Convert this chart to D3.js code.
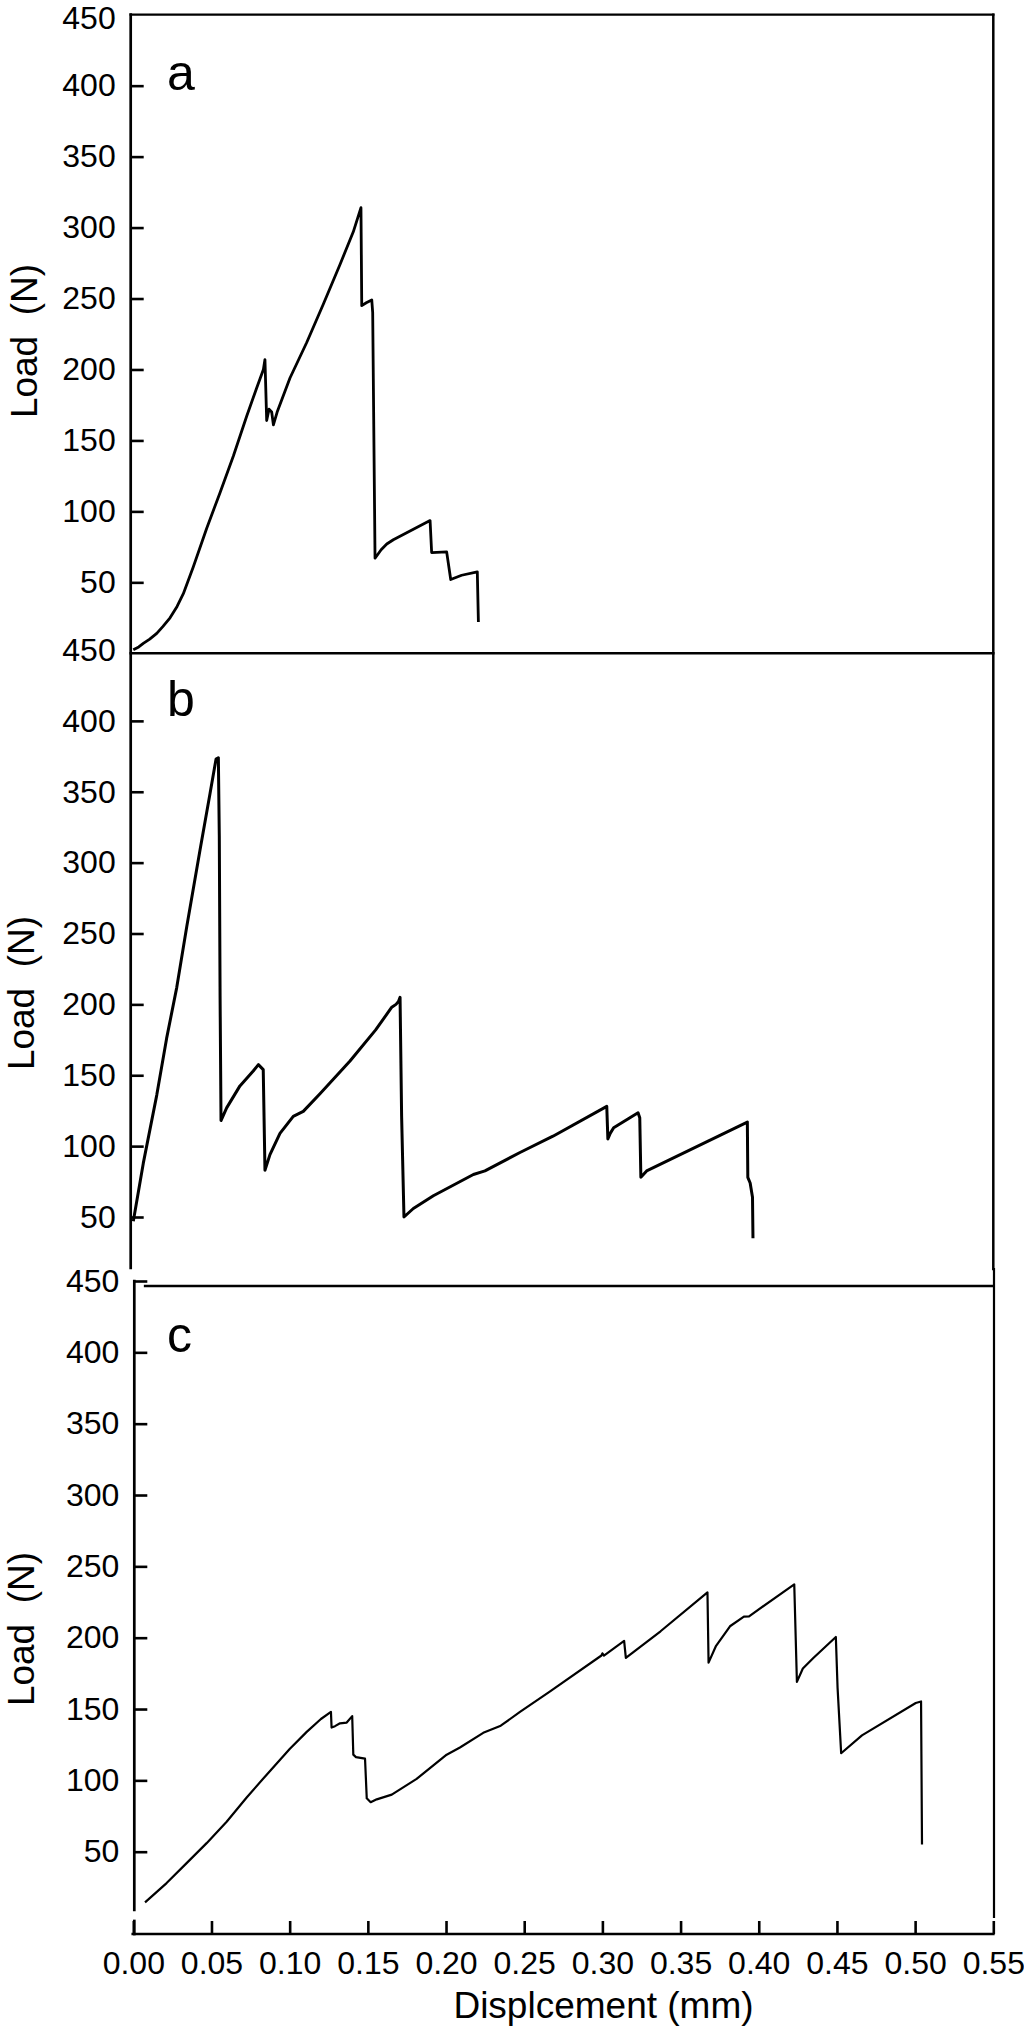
<!DOCTYPE html>
<html><head><meta charset="utf-8">
<script src="https://cdn.jsdelivr.net/npm/d3@7"></script>
<style>
html,body{margin:0;padding:0;background:#fff;}
svg{display:block;}
text{font-family:"Liberation Sans",Arial,Helvetica,sans-serif;fill:#000;}
</style></head><body>
<svg id="chart" width="1024" height="2030"></svg>
<script>
// ---------- data ----------
const dispA = [0, 0.0035, 0.0064, 0.0105, 0.0150, 0.0190, 0.0235, 0.0280, 0.0320, 0.0384, 0.0469, 0.0554, 0.0640, 0.0725, 0.0789, 0.0832, 0.0842, 0.0853, 0.0868, 0.0885, 0.0896, 0.0920, 0.1002, 0.1109, 0.1215, 0.1322, 0.1407, 0.1456, 0.1461, 0.1490, 0.1525, 0.1531, 0.1546, 0.1585, 0.1621, 0.1663, 0.1898, 0.1908, 0.2004, 0.2030, 0.2100, 0.2200, 0.2207];
const loadA = [2.5, 4.5, 7, 10, 14, 19, 25, 33, 42, 61, 88, 113, 139, 167, 187, 200, 207, 164, 172, 170, 161, 170, 194, 219, 246, 274, 297, 314, 245, 247, 249, 240, 67, 73, 77, 80, 93.5, 71, 71.5, 52, 55, 57.4, 22];

const dispB = [0, 0.0064, 0.0150, 0.0213, 0.0278, 0.0342, 0.0427, 0.0491, 0.0529, 0.0544, 0.0550, 0.0555, 0.0561, 0.0597, 0.0682, 0.0767, 0.0800, 0.0831, 0.0842, 0.0874, 0.0938, 0.1023, 0.1087, 0.1194, 0.1386, 0.1550, 0.1653, 0.1680, 0.1696, 0.1706, 0.1716, 0.1731, 0.1791, 0.1919, 0.2175, 0.2249, 0.2473, 0.2684, 0.3028, 0.3035, 0.3050, 0.3072, 0.3228, 0.3239, 0.3246, 0.3283, 0.3927, 0.3930, 0.3945, 0.3960, 0.3963];
const loadB = [47, 88, 136, 176, 212, 255, 309, 349, 373, 374, 319, 206, 118, 127, 142.5, 153, 157.5, 154, 83, 94, 109, 121, 124.5, 137, 160, 182, 198, 200, 202, 205, 121, 50, 56, 65, 80, 82.5, 95.5, 107, 128, 105, 109, 113, 123.5, 120, 78, 82.5, 117, 78, 74, 64, 35];

const dispC = [0.0075, 0.0213, 0.0341, 0.0469, 0.0597, 0.0725, 0.0853, 0.1000, 0.1109, 0.1200, 0.1264, 0.1268, 0.1290, 0.1322, 0.1365, 0.1400, 0.1407, 0.1424, 0.1482, 0.1493, 0.1518, 0.1557, 0.1653, 0.1812, 0.2004, 0.2089, 0.2238, 0.2350, 0.2473, 0.2661, 0.2994, 0.3000, 0.3010, 0.3139, 0.3150, 0.3372, 0.3672, 0.3679, 0.3727, 0.3816, 0.3905, 0.3938, 0.4227, 0.4244, 0.4282, 0.4349, 0.4493, 0.4504, 0.4527, 0.4660, 0.5004, 0.5038, 0.5044];
const loadC = [14.5, 28, 42, 56, 71, 88, 104, 122, 134, 143, 148, 137, 138, 140, 140.5, 145, 118, 116.3, 115.2, 87.4, 84.7, 86.7, 90, 101, 118, 123, 133.3, 138.3, 148, 162, 187.5, 189, 187.5, 197.7, 185.8, 204.5, 231.7, 182.5, 194.3, 208, 214.7, 215, 237.4, 169, 178.4, 185.8, 200.5, 165, 119, 131.5, 154.2, 155.3, 55];

const xTickValues = [0, 0.05, 0.10, 0.15, 0.20, 0.25, 0.30, 0.35, 0.40, 0.45, 0.50, 0.55];
const yTickValues = [50, 100, 150, 200, 250, 300, 350, 400, 450];
const panelLetters = ["a", "b", "c"];
const xTitle = "Displcement (mm)";
const yTitle = "Load  (N)";

// ---------- drawing ----------
const svg = d3.select("#chart");
svg.append("rect").attr("width", 1024).attr("height", 2030).attr("fill", "#fff");

const x = d3.scaleLinear().domain([0, 0.55]).range([133.3, 993.3]);

const panels = [
  { disp: dispA, load: loadA, y: d3.scaleLinear().domain([0, 450]).range([653.3, 14.7]),
    axisX: 130.7, letterY: 90, titleX: 37, titleY: 341, lw: 2.8, tick450: false, topShift: 4 },
  { disp: dispB, load: loadB, y: d3.scaleLinear().domain([50, 450]).range([1217, 650]),
    axisX: 130.7, letterY: 716, titleX: 34, titleY: 993, lw: 3.0, tick450: false, topShift: 0 },
  { disp: dispC, load: loadC, y: d3.scaleLinear().domain([50, 450]).range([1851.7, 1281]),
    axisX: 134.3, letterY: 1352, titleX: 34, titleY: 1629, lw: 2.2, tick450: true, topShift: 0 }
];

const seg = (x1, y1, x2, y2, w) => svg.append("line")
  .attr("x1", x1).attr("y1", y1).attr("x2", x2).attr("y2", y2)
  .attr("stroke", "#000").attr("stroke-width", w).attr("stroke-linecap", "square");

const yA = panels[0].y, yC = panels[2].y;
// frames
seg(panels[0].axisX, yA(450), x(0.55), yA(450), 2.3);           // top of a
seg(panels[0].axisX, yA(0), x(0.55), yA(0), 2.5);               // a / b divider
seg(145, 1286, x(0.55), 1286, 2.3);                             // top of c
seg(x(0.55), yA(450), x(0.55), 1269, 2.5);                      // right of a, b
seg(x(0.55) + 0.7, 1269, x(0.55) + 0.7, 1917, 2.2);             // right of c
seg(panels[0].axisX, yA(450), panels[0].axisX, 1268, 2.7);      // left of a, b
seg(panels[2].axisX, yC(450), panels[2].axisX, 1910, 2.7);      // left of c
seg(panels[2].axisX, 1921, panels[2].axisX, 1934, 2.7);
seg(x(0) - 0.5, 1934, x(0.55), 1934, 2.7);                      // x axis

panels.forEach((p, i) => {
  const g = svg.append("g").attr("transform", `translate(${p.axisX},0)`)
    .call(d3.axisLeft(p.y).tickValues(yTickValues).tickSize(-13).tickPadding(15)
      .tickFormat(d3.format("d")));
  g.select(".domain").remove();
  g.selectAll(".tick line").attr("stroke", "#000").attr("stroke-width", 2.6)
    .attr("opacity", d => (d === 450 && !p.tick450) ? 0 : 1);
  g.selectAll(".tick text").style("font-size", "32px").attr("fill", "#000")
    .attr("y", d => d === 450 ? p.topShift : 0);

  const line = d3.line().x(d => x(d[0])).y(d => p.y(d[1]));
  svg.append("path").datum(d3.zip(p.disp, p.load))
    .attr("d", line).attr("fill", "none").attr("stroke", "#000")
    .attr("stroke-width", p.lw).attr("stroke-linejoin", "round");

  svg.append("text").attr("x", 167).attr("y", p.letterY)
    .style("font-size", "50px").text(panelLetters[i]);

  svg.append("text").attr("transform", `translate(${p.titleX},${p.titleY}) rotate(-90)`)
    .attr("text-anchor", "middle").style("font-size", "37px").style("white-space", "pre")
    .text(yTitle);
});

const gx = svg.append("g").attr("transform", "translate(0,1934)")
  .call(d3.axisBottom(x).tickValues(xTickValues).tickSize(-13).tickPadding(17)
    .tickFormat(d3.format(".2f")));
gx.select(".domain").remove();
gx.selectAll(".tick line").attr("stroke", "#000").attr("stroke-width", 2.6);
gx.selectAll(".tick text").style("font-size", "32px").attr("fill", "#000");

svg.append("text").attr("x", 603.5).attr("y", 2018).attr("text-anchor", "middle")
  .style("font-size", "37px").text(xTitle);
</script>
</body></html>
